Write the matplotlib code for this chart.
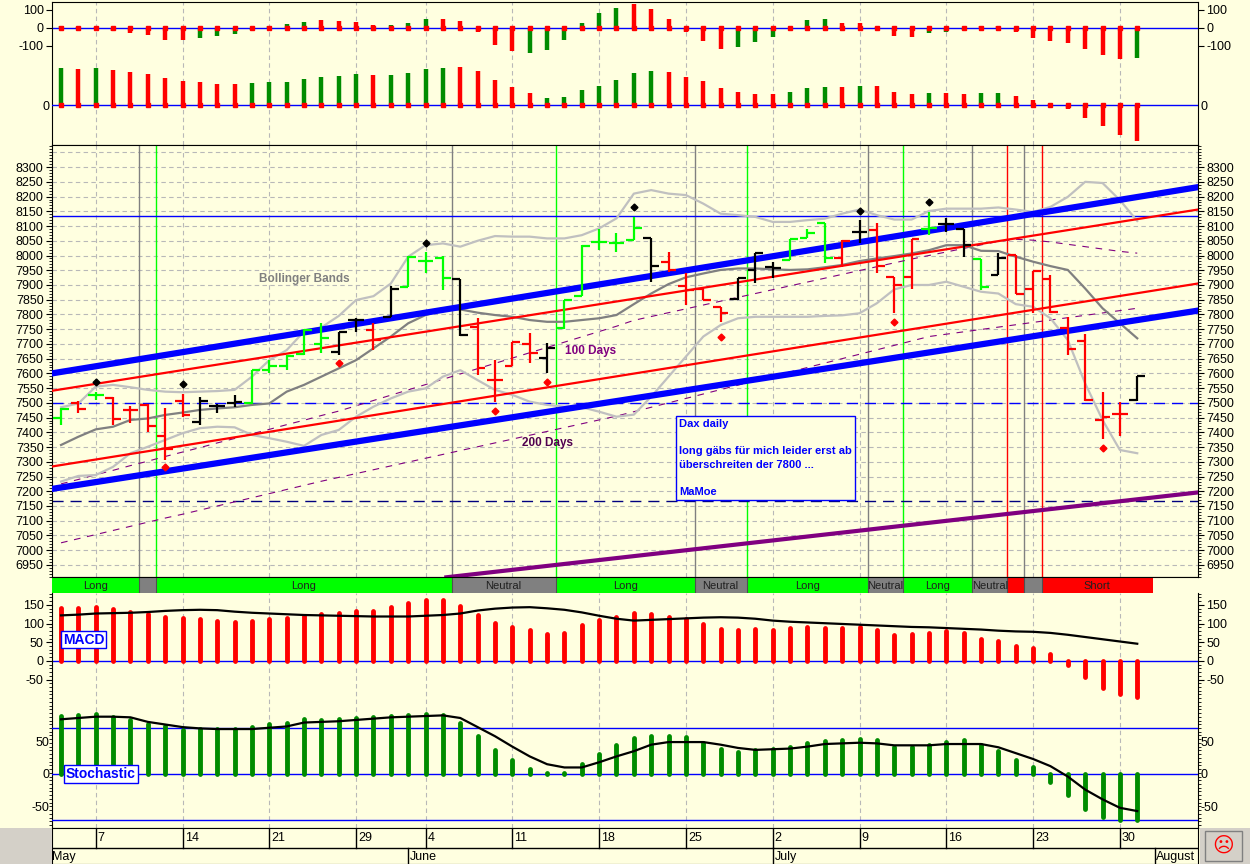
import numpy as np
import matplotlib
matplotlib.use("Agg")
import matplotlib.pyplot as plt
from matplotlib.ticker import MultipleLocator

plt.rcParams['font.family'] = ['Liberation Sans', 'DejaVu Sans']
plt.rcParams['axes.unicode_minus'] = False

W, H = 1250, 864
BG = '#FFFFE0'
GREEN = '#00FF00'
DKGREEN = '#008C00'
RED = '#FF0000'

# ---------------- data ----------------
n_bars = 63
# top panel: two oscillators
osc_a = [12, 5, 5, -18, -30, -40, -65, -65, -55, -45, -35, -12, 10, 20, 35, 45, 40, 35, 18, 18,
         25, 50, 50, 40, -20, -95, -130, -140, -120, -65, 30, 85, 110, 135, 105, 50, -20, -70, -115, -105,
         -80, -50, -5, 45, 50, 30, 25, 5, -45, -50, -30, -25, -10, 10, 10, -25, -55, -75, -85, -115,
         -150, -170, -165]
osc_a_col = 'grrrrrrrgggggggrrrrgggrrrrrggggggrrrrrrgggrggrrrrrgggrrrrrrrrrg'
osc_b = [110, 108, 110, 105, 100, 93, 82, 73, 70, 64, 64, 67, 68, 70, 78, 85, 88, 92, 91, 91,
         97, 108, 112, 115, 102, 76, 55, 37, 22, 25, 44, 57, 75, 95, 103, 100, 85, 73, 52, 40,
         34, 34, 40, 52, 55, 55, 57, 57, 40, 34, 36, 37, 34, 36, 36, 27, 16, 3, -12, -38,
         -62, -90, -108]
osc_b_col = 'grgrrrrrrrrgggggggrggggrrrrrgggggggrrrrrrrgggrgrrrgrrggrrrrrrrr'

# price bars
opens = [7450, 7500, 7525, 7518, 7476, 7493, 7388, 7507, 7436, 7490, 7500, 7498, 7612, 7625, 7665, 7700,
         7674, 7780, 7747, 7792, 7894, 7980, 7990, 7919, 7758, 7577, 7625, 7700, 7653, 7753, 7862, 8047,
         8041, 8053, 8058, 7979, 7897, 7886, 7824, 7851, 7950, 7960, 7985, 8058, 8109, 7990, 8081, 8086,
         7926, 7926, 8090, 8107, 8089, 7988, 7934, 8001, 7885, 7919, 7753, 7711, 7442, 7461, 7510]
highs = [7482, 7506, 7538, 7520, 7490, 7495, 7483, 7530, 7521, 7495, 7527, 7612, 7645, 7662, 7750, 7772,
         7742, 7787, 7770, 7895, 8000, 8013, 8000, 7920, 7787, 7645, 7708, 7738, 7702, 7850, 8034, 8089,
         8077, 8132, 8058, 8013, 7940, 7890, 7824, 7925, 8010, 7979, 8055, 8089, 8110, 8052, 8120, 8109,
         7926, 8055, 8148, 8126, 8089, 7988, 8010, 8001, 7947, 7934, 7790, 7734, 7538, 7502, 7591]
lows = [7425, 7465, 7510, 7425, 7430, 7402, 7306, 7453, 7425, 7465, 7487, 7495, 7602, 7612, 7663, 7670,
        7663, 7742, 7680, 7790, 7892, 7940, 7883, 7727, 7595, 7504, 7625, 7634, 7600, 7750, 7862, 8018,
        8013, 8052, 7911, 7945, 7832, 7849, 7775, 7849, 7905, 7922, 7985, 8058, 7973, 7962, 8041, 7940,
        7804, 7885, 8070, 8081, 7996, 7883, 7934, 7869, 7806, 7806, 7662, 7507, 7376, 7389, 7507]
closes = [7478, 7480, 7527, 7445, 7475, 7420, 7343, 7460, 7507, 7490, 7502, 7610, 7625, 7660, 7748, 7720,
          7742, 7780, 7713, 7885, 7996, 7980, 7922, 7730, 7617, 7576, 7706, 7670, 7685, 7849, 8032, 8047,
          8041, 8092, 7964, 7950, 7883, 7849, 7804, 7925, 8009, 7956, 8055, 8077, 7990, 8050, 8081, 7964,
          7900, 8055, 8092, 8107, 8035, 7894, 7992, 7869, 7947, 7809, 7683, 7510, 7453, 7461, 7591]
bar_col = 'grgrrrrrkkkgggggkkrkgggkrrrrkgggggkrrrrkkkgggrkrrrgkkgkrrrrrrrk'

dots_hi_idx = [2, 7, 21, 33, 46, 50]
dots_hi_val = [7571, 7563, 8043, 8165, 8152, 8181]
dots_lo_idx = [6, 16, 25, 28, 38, 48, 60]
dots_lo_val = [7281, 7634, 7473, 7572, 7724, 7775, 7348]

bb_upper = [7485, 7498, 7555, 7561, 7553, 7544, 7538, 7536, 7538, 7540, 7544, 7589, 7645, 7679, 7742, 7756,
            7795, 7849, 7862, 7905, 7996, 8035, 8041, 8030, 8050, 8066, 8064, 8064, 8058, 8058, 8069, 8092,
            8126, 8210, 8222, 8210, 8205, 8176, 8142, 8137, 8131, 8114, 8114, 8120, 8125, 8142, 8156, 8137,
            8122, 8122, 8151, 8159, 8159, 8159, 8163, 8156, 8148, 8165, 8199, 8250, 8246, 8188, 8117]
bb_lower = [7233, 7252, 7255, 7283, 7329, 7351, 7374, 7397, 7414, 7419, 7417, 7391, 7380, 7368, 7354, 7391,
            7408, 7453, 7487, 7515, 7538, 7549, 7589, 7611, 7577, 7544, 7527, 7504, 7493, 7487, 7485, 7470,
            7453, 7460, 7521, 7589, 7657, 7725, 7764, 7787, 7792, 7792, 7792, 7792, 7795, 7797, 7804, 7838,
            7885, 7900, 7900, 7911, 7894, 7877, 7871, 7835, 7826, 7787, 7713, 7566, 7442, 7340, 7329]
bb_mid = [7357, 7385, 7410, 7419, 7442, 7447, 7459, 7467, 7476, 7481, 7485, 7493, 7498, 7538, 7561, 7589,
          7617, 7645, 7685, 7725, 7770, 7798, 7815, 7817, 7806, 7798, 7792, 7781, 7775, 7775, 7781, 7787,
          7798, 7835, 7871, 7903, 7926, 7939, 7951, 7956, 7956, 7953, 7951, 7953, 7960, 7968, 7981, 7990,
          7998, 8007, 8018, 8035, 8035, 8016, 8015, 7996, 7979, 7964, 7951, 7888, 7821, 7770, 7719]
ma100 = [7225, 7240, 7256, 7271, 7287, 7302, 7318, 7333, 7348, 7364, 7379, 7395, 7410, 7426, 7441, 7457,
         7472, 7490, 7508, 7526, 7544, 7562, 7580, 7598, 7616, 7634, 7652, 7670, 7688, 7706, 7724, 7742,
         7760, 7780, 7793, 7806, 7819, 7832, 7845, 7858, 7871, 7884, 7897, 7910, 7923, 7936, 7949, 7962,
         7975, 7988, 8000, 8012, 8024, 8036, 8048, 8055, 8052, 8046, 8038, 8030, 8022, 8014, 8008]
ma200 = [7025, 7039, 7053, 7067, 7081, 7095, 7109, 7122, 7136, 7150, 7164, 7178, 7192, 7206, 7220, 7234,
         7247, 7260, 7273, 7286, 7299, 7312, 7325, 7338, 7351, 7364, 7377, 7390, 7403, 7416, 7429, 7442,
         7455, 7470, 7485, 7500, 7515, 7530, 7545, 7560, 7575, 7590, 7605, 7620, 7635, 7650, 7665, 7680,
         7695, 7710, 7725, 7733, 7741, 7749, 7757, 7765, 7773, 7781, 7789, 7797, 7805, 7813, 7821]

# trend lines: (x0, x1), (p0, p1)
line_x = [-0.52, 65.5]
chan_upper = [7600, 8232]
chan_lower = [7208, 7813]
red_upper = [7541, 8156]
red_lower = [7284, 7905]
purple_x = [22.2, 65.5]
purple_line = [6908, 7196]
hline_blue = 8133
hline_dash_blue = 7500
hline_dash_dark = 7167

# signal vertical lines
vl_pos = [4.5, 5.5, 22.5, 28.5, 36.5, 39.5, 46.5, 48.5, 52.5, 54.5, 55.5, 56.5]
vl_col = ['#808080', GREEN, '#808080', GREEN, '#808080', GREEN, '#808080', GREEN, '#808080', RED, '#808080', RED]

# status strip
strip_edges = [-0.52, 4.5, 5.5, 22.5, 28.5, 36.5, 39.5, 46.5, 48.5, 52.5, 54.5, 55.5, 56.5, 62.9]
strip_state = ['Long', '', 'Long', 'Neutral', 'Long', 'Neutral', 'Long', 'Neutral', 'Long', 'Neutral', 'S', '', 'Short']

# MACD & stochastic
macd = [141, 141, 144, 138, 132, 125, 119, 114, 112, 108, 104, 108, 112, 114, 121, 125, 128, 133, 133, 144,
        154, 163, 163, 147, 123, 101, 92, 82, 72, 76, 96, 110, 117, 128, 125, 119, 112, 98, 85, 82,
        85, 82, 88, 90, 88, 88, 90, 82, 70, 72, 76, 79, 75, 59, 52, 39, 34, 19, -12, -43,
        -72, -90, -96]
macd_sig = [122, 124, 127, 128, 129, 131, 134, 136, 137, 136, 132, 129, 127, 125, 123, 122, 121, 120, 119, 119,
            119, 121, 123, 127, 135, 140, 143, 144, 141, 137, 130, 121, 113, 108, 110, 112, 114, 116, 117, 116,
            113, 108, 105, 103, 101, 99, 97, 95, 93, 91, 90, 88, 86, 84, 81, 79, 78, 75, 70, 64,
            58, 52, 46]
stoch = [89, 91, 92, 88, 83, 76, 73, 68, 69, 69, 69, 72, 76, 79, 84, 83, 84, 86, 87, 89,
         91, 92, 91, 79, 59, 37, 22, 8, 2, 1, 15, 30, 44, 56, 59, 59, 57, 48, 39, 34,
         37, 38, 42, 48, 50, 52, 54, 52, 42, 41, 44, 49, 52, 44, 35, 21, 10, -12, -32, -54,
         -66, -71, -70]
stoch_line = [84, 86, 88, 88, 87, 80, 76, 72, 70, 69, 69, 69, 71, 73, 79, 80, 81, 83, 85, 87,
              88, 89, 90, 86, 72, 58, 42, 27, 15, 10, 10, 18, 27, 35, 45, 49, 49, 49, 45, 40,
              37, 38, 39, 42, 46, 47, 48, 47, 44, 44, 44, 46, 46, 46, 41, 32, 23, 12, -4, -24,
              -39, -52, -57]

week_idx = [2, 7, 12, 17, 21, 26, 31, 36, 41, 46, 51, 56, 61]
week_lbl = ['7', '14', '21', '29', '4', '11', '18', '25', '2', '9', '16', '23', '30']
month_idx = [-0.6, 20, 41, 63]
month_lbl = ['May', 'June', 'July', 'August']

price_ticks = list(range(6950, 8301, 50))
XL = (-0.52, 65.5)
x = np.arange(n_bars)
cmap = {'g': GREEN, 'r': RED, 'k': 'black'}
cmap_osc = {'g': DKGREEN, 'r': RED}

fig = plt.figure(figsize=(W / 100, H / 100), dpi=100, facecolor=BG)


def pax(x0, y0, x1, y1):
    a = fig.add_axes([x0 / W, 1 - y1 / H, (x1 - x0) / W, (y1 - y0) / H])
    a.set_facecolor(BG)
    a.set_xlim(*XL)
    return a


def style_y(a, ticks, minor=None):
    a.set_yticks(ticks)
    a.tick_params(axis='y', which='both', left=True, right=True, labelleft=True, labelright=True,
                  direction='out', labelsize=9, length=4, pad=2)
    if minor:
        a.yaxis.set_minor_locator(MultipleLocator(minor))
        a.tick_params(axis='y', which='minor', length=2)
    a.set_xticks([])


def week_grid(a):
    for w in week_idx:
        a.axvline(w, color='#B8B8B8', lw=0.8, ls=(0, (4, 3)), zorder=0)


# ---- top panel ----
ax_t = pax(52, 2, 1198, 145)
ax_t.set_ylim(-650, 144.4)
week_grid(ax_t)
ax_t.axhline(0, color='#0000FF', lw=1)
ax_t.vlines(x, 0, osc_a, colors=[cmap_osc[c] for c in osc_a_col], lw=3.2, zorder=3)
ax_t.plot(x, np.zeros(n_bars), 's', color=RED, ms=2.5, zorder=4)
style_y(ax_t, [100, 0, -100])
ax_t2 = pax(52, 2, 1198, 145)
ax_t2.patch.set_visible(False)
ax_t2.set_ylim(-120, 309)
ax_t2.axhline(0, color='#0000FF', lw=1)
ax_t2.vlines(x, 0, osc_b, colors=[cmap_osc[c] for c in osc_b_col], lw=3.2, zorder=3)
ax_t2.plot(x, np.zeros(n_bars), 's', color=RED, ms=2.5, zorder=4)
style_y(ax_t2, [0])
for s in ax_t2.spines.values():
    s.set_visible(False)
ax_t2.tick_params(axis='y', length=0)

# ---- price panel ----
ax = pax(52, 145, 1198, 577)
ax.set_ylim(6909, 8375)
for p in range(6950, 8351, 50):
    ax.axhline(p, color='#B8B8B8', lw=0.8, ls=(0, (4, 3)), zorder=0)
week_grid(ax)
for v, c in zip(vl_pos, vl_col):
    ax.axvline(v, color=c, lw=1, zorder=1)
ax.axhline(hline_blue, color='#0000FF', lw=1, zorder=2)
ax.axhline(hline_dash_blue, color='#0000FF', lw=1, ls=(0, (8, 5)), zorder=2)
ax.axhline(hline_dash_dark, color='#000080', lw=1, ls=(0, (8, 5)), zorder=2)
ax.plot(x, ma100, color='#800080', lw=0.8, ls=(0, (6, 6)), zorder=2)
ax.plot(x, ma200, color='#800080', lw=0.8, ls=(0, (6, 6)), zorder=2)
ax.plot(x, bb_upper, color='#C0C0C0', lw=1.6, zorder=3)
ax.plot(x, bb_lower, color='#C0C0C0', lw=1.6, zorder=3)
ax.plot(x, bb_mid, color='#808080', lw=1.6, zorder=3)
ax.plot(line_x, red_upper, color=RED, lw=1.6, zorder=4)
ax.plot(line_x, red_lower, color=RED, lw=1.6, zorder=4)
ax.plot(line_x, chan_upper, color='#0000FF', lw=4.5, zorder=4)
ax.plot(line_x, chan_lower, color='#0000FF', lw=4.5, zorder=4)
ax.plot(purple_x, purple_line, color='#800080', lw=3, zorder=4)
for i in range(n_bars):
    c = cmap[bar_col[i]]
    ax.plot([i, i], [lows[i], highs[i]], color=c, lw=1.6, zorder=5, solid_capstyle='butt')
    ax.plot([i - 0.45, i], [opens[i], opens[i]], color=c, lw=1.6, zorder=5, solid_capstyle='butt')
    ax.plot([i, i + 0.45], [closes[i], closes[i]], color=c, lw=1.6, zorder=5, solid_capstyle='butt')
ax.plot(dots_hi_idx, dots_hi_val, 'D', color='black', ms=3.5, zorder=6)
ax.plot(dots_lo_idx, dots_lo_val, 'D', color=RED, ms=3.5, zorder=6)
ax.text(14.0, 7920, 'Bollinger Bands', color='#808080', fontsize=8.5, fontweight='bold', ha='center', va='center')
ax.text(30.5, 7676, '100 Days', color='#800080', fontsize=8.5, fontweight='bold', ha='center', va='center')
ax.text(28.0, 7364, '200 Days', color='#500050', fontsize=8.5, fontweight='bold', ha='center', va='center')
ax.text(35.6, 7445,
        'Dax daily\n\nlong gäbs für mich leider erst ab\nüberschreiten der 7800 ...\n\nMaMoe',
        color='#0000FF', fontsize=8, fontweight='bold', ha='left', va='top', linespacing=1.45, zorder=8,
        bbox=dict(boxstyle='square,pad=0.25', fc=BG, ec='#0000FF', lw=1))
style_y(ax, price_ticks, minor=10)

# ---- status strip ----
ax_s = pax(52, 577, 1198, 593)
ax_s.set_ylim(0, 1)
scol = {'Long': GREEN, 'Neutral': '#808080', '': '#808080', 'S': RED, 'Short': RED}
for k, st in enumerate(strip_state):
    a0, a1 = strip_edges[k], strip_edges[k + 1]
    ax_s.axvspan(a0, a1, color=scol[st], lw=0)
    if st in ('Long', 'Neutral', 'Short'):
        ax_s.text((a0 + a1) / 2, 0.45, st, ha='center', va='center', fontsize=8, color='#202020')
for e in strip_edges[1:-1]:
    ax_s.axvline(e, color='#505050', lw=0.8)
ax_s.set_xticks([])
ax_s.set_yticks([])
for s in ['left', 'right', 'bottom']:
    ax_s.spines[s].set_visible(False)

# ---- MACD / stochastic ----
ax_m = pax(52, 593, 1198, 828)
ax_m.set_ylim(-448, 182)
week_grid(ax_m)
ax_m.axhline(0, color='#0000FF', lw=1)
ax_m.vlines(x, 0, macd, colors=RED, lw=3.5, capstyle='round', zorder=3)
ax_m.plot(x, macd_sig, color='black', lw=1.6, zorder=4)
ax_m.text(1.3, 57, 'MACD', color='#0000FF', fontsize=10, fontweight='bold', ha='center', va='center',
          bbox=dict(boxstyle='square,pad=0.12', fc='white', ec='#0000FF', lw=1), zorder=6)
style_y(ax_m, [150, 100, 50, 0, -50], minor=10)
ax_m.spines['top'].set_visible(False)

ax_k = pax(52, 593, 1198, 828)
ax_k.patch.set_visible(False)
ax_k.set_ylim(-83, 278)
for lv in [70, 0, -70]:
    ax_k.axhline(lv, color='#0000FF', lw=1)
ax_k.vlines(x, 0, stoch, colors=DKGREEN, lw=3.5, capstyle='round', zorder=3)
ax_k.plot(x, stoch_line, color='black', lw=1.6, zorder=4)
ax_k.text(2.3, 0, 'Stochastic', color='#0000FF', fontsize=10, fontweight='bold', ha='center', va='center',
          bbox=dict(boxstyle='square,pad=0.12', fc='white', ec='#0000FF', lw=1), zorder=6)
style_y(ax_k, [50, 0, -50], minor=10)
for s in ax_k.spines.values():
    s.set_visible(False)
ax_k.tick_params(axis='y', which='both', length=0)

# ---- date axis ----
ax_d = pax(52, 828, 1198, 864)
ax_d.set_ylim(0, 1)
ax_d.axhline(0.44, color='black', lw=1)
for w, lb in zip(week_idx, week_lbl):
    ax_d.plot([w, w], [0.44, 1], color='black', lw=1)
    ax_d.text(w + 0.12, 0.72, lb, fontsize=9, ha='left', va='center')
for m, lb in zip(month_idx, month_lbl):
    ax_d.plot([m, m], [0, 0.44], color='black', lw=1)
    ax_d.text(m + 0.1, 0.2, lb, fontsize=9, ha='left', va='center', clip_on=True)
ax_d.set_xticks([])
ax_d.set_yticks([])

# corners
fig.patches.append(plt.Rectangle((0, 0), 52 / W, 36 / H, transform=fig.transFigure, fc='#D4D0C8', ec='none'))
fig.patches.append(plt.Rectangle((1200 / W, 0), 50 / W, 36 / H, transform=fig.transFigure, fc='#D4D0C8', ec='none'))
fig.patches.append(plt.Rectangle((1205 / W, 3 / H), 37 / W, 30 / H, transform=fig.transFigure,
                                 fc='#D4D0C8', ec='#808080', lw=1))
fig.text(1223 / W, 18 / H, '☹', color=RED, fontsize=15, ha='center', va='center', family='DejaVu Sans')

fig.savefig('out.png', dpi=100, facecolor=BG)
